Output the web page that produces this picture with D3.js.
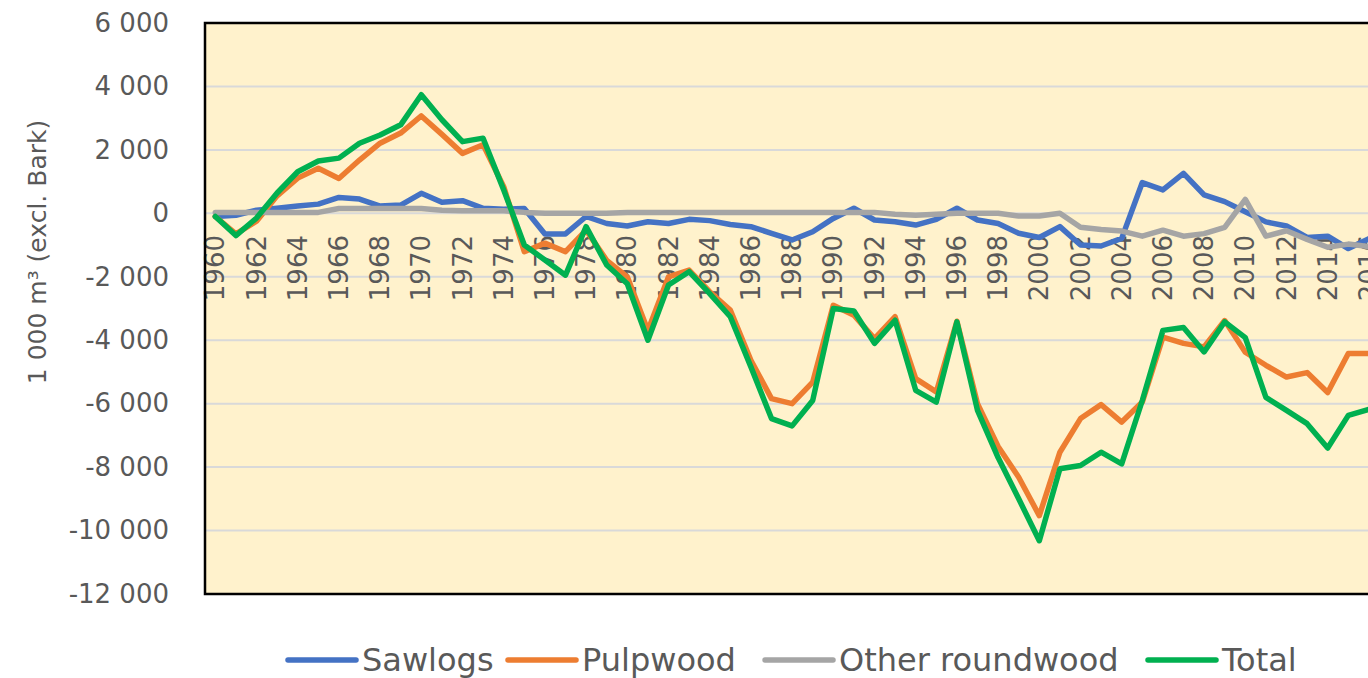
<!DOCTYPE html>
<html><head><meta charset="utf-8">
<script src="https://cdn.jsdelivr.net/npm/d3@7"></script>
<style>html,body{margin:0;padding:0;background:#fff;overflow:hidden}</style>
</head><body>
<svg id="chart" width="1368" height="678"></svg>
<script>
const years = [1960,1961,1962,1963,1964,1965,1966,1967,1968,1969,
  1970,1971,1972,1973,1974,1975,1976,1977,1978,1979,
  1980,1981,1982,1983,1984,1985,1986,1987,1988,1989,
  1990,1991,1992,1993,1994,1995,1996,1997,1998,1999,
  2000,2001,2002,2003,2004,2005,2006,2007,2008,2009,
  2010,2011,2012,2013,2014,2015,2016];
const sawlogs = [-100,-60,100,160,230,290,500,450,230,260,
  630,350,400,160,130,150,-650,-650,-100,-320,
  -400,-265,-320,-190,-230,-350,-420,-630,-840,-580,
  -160,160,-210,-265,-370,-190,160,-210,-320,-630,
  -760,-420,-1000,-1030,-790,970,740,1260,580,370,
  50,-270,-400,-760,-720,-1110,-800];
const pulpwood = [-100,-650,-250,550,1110,1420,1100,1680,2210,2530,
  3070,2490,1890,2160,840,-1210,-940,-1210,-530,-1480,
  -2000,-3690,-2000,-1790,-2470,-3050,-4630,-5840,-6000,-5320,
  -2900,-3210,-3950,-3260,-5210,-5630,-3400,-6000,-7350,-8320,
  -9530,-7530,-6470,-6030,-6580,-5950,-3900,-4100,-4210,-3380,
  -4380,-4790,-5160,-5020,-5650,-4420,-4420];
const other = [30,30,30,30,30,30,150,150,150,150,
  150,100,80,80,80,30,0,0,0,0,
  30,30,30,30,30,30,30,30,30,30,
  30,30,30,-30,-60,-30,0,0,0,-85,
  -85,0,-440,-510,-560,-720,-530,-720,-640,-440,
  440,-720,-550,-820,-1070,-970,-1050];
const total = [-100,-700,-150,640,1310,1650,1740,2210,2470,2790,
  3740,2950,2260,2370,740,-1000,-1470,-1950,-420,-1630,
  -2220,-4000,-2260,-1840,-2530,-3260,-4840,-6470,-6700,-5900,
  -3000,-3080,-4100,-3370,-5580,-5950,-3420,-6210,-7700,-9000,
  -10320,-8050,-7950,-7530,-7900,-5900,-3690,-3600,-4370,-3420,
  -3920,-5800,-6210,-6630,-7400,-6370,-6180];
const seriesNames = ["Sawlogs","Pulpwood","Other roundwood","Total"];
const seriesColors = ["#4472C4","#ED7D31","#A5A5A5","#00B050"];
const xTickLabels = ["1960","1962","1964","1966","1968","1970","1972","1974","1976","1978",
  "1980","1982","1984","1986","1988","1990","1992","1994","1996","1998",
  "2000","2002","2004","2006","2008","2010","2012","2014","2016"];
const yTicks = [6000,4000,2000,0,-2000,-4000,-6000,-8000,-10000,-12000];
const yTitle = "1 000 m³ (excl. Bark)";

(function () {
const svg = d3.select("#chart");
const pL = 205, pT = 23, pB = 594, bandW = 20.6;
const x = d3.scaleBand().domain(years).range([pL, pL + bandW * years.length]).padding(0);
const y = d3.scaleLinear().domain([-12000, 6000]).range([pB, pT]);
const xc = d => x(d) + x.bandwidth() / 2;
const pR = pL + bandW * years.length;
const font = "DejaVu Sans";
const txtCol = "#595959";

svg.append("rect").attr("x", pL).attr("y", pT).attr("width", pR - pL).attr("height", pB - pT)
  .attr("fill", "#FFF2CC");
svg.append("g").selectAll("line").data(yTicks.filter(v => v !== 6000 && v !== -12000)).join("line")
  .attr("x1", pL).attr("x2", pR).attr("y1", d => y(d)).attr("y2", d => y(d))
  .attr("stroke", "#D9D9D9").attr("stroke-width", 2);

const loc = d3.formatLocale({decimal: ".", thousands: " ", grouping: [3], currency: ["", ""], minus: "-"});
const fmt = loc.format(",d");
const yAxis = svg.append("g").attr("transform", `translate(${pL},0)`)
  .call(d3.axisLeft(y).tickValues(yTicks).tickFormat(fmt).tickSize(0).tickPadding(36));
yAxis.select(".domain").remove();
yAxis.selectAll("text").attr("font-family", font).attr("font-size", 26).attr("fill", txtCol);

svg.append("text").attr("transform", "translate(37,252) rotate(-90)")
  .attr("text-anchor", "middle").attr("dominant-baseline", "central")
  .attr("font-family", font).attr("font-size", 25).attr("fill", txtCol).text(yTitle);

svg.append("g").selectAll("text").data(xTickLabels).join("text")
  .attr("transform", d => `translate(${xc(+d)},235) rotate(-90)`)
  .attr("text-anchor", "end").attr("dominant-baseline", "central")
  .attr("font-family", font).attr("font-size", 26).attr("fill", txtCol).text(d => d);

const allSeries = [sawlogs, pulpwood, other, total];
const line = d3.line().x((d, i) => xc(years[i])).y(d => y(d));
allSeries.forEach((s, k) => {
  svg.append("path").datum(s).attr("d", line)
    .attr("fill", "none").attr("stroke", seriesColors[k]).attr("stroke-width", 5.5)
    .attr("stroke-linejoin", "round").attr("stroke-linecap", "round");
});

svg.append("path").attr("d", `M${pR},${pT}H${pL}V${pB}H${pR}`)
  .attr("fill", "none").attr("stroke", "#000").attr("stroke-width", 2.5);

const legX = [288, 508, 765, 1148];
const legY = 660;
seriesNames.forEach((n, k) => {
  svg.append("line").attr("x1", legX[k]).attr("x2", legX[k] + 68).attr("y1", legY).attr("y2", legY)
    .attr("stroke", seriesColors[k]).attr("stroke-width", 5.5).attr("stroke-linecap", "round");
  svg.append("text").attr("x", legX[k] + 74).attr("y", legY).attr("dominant-baseline", "central")
    .attr("font-family", font).attr("font-size", 32).attr("fill", txtCol).text(n);
});
})();
</script>
</body></html>
